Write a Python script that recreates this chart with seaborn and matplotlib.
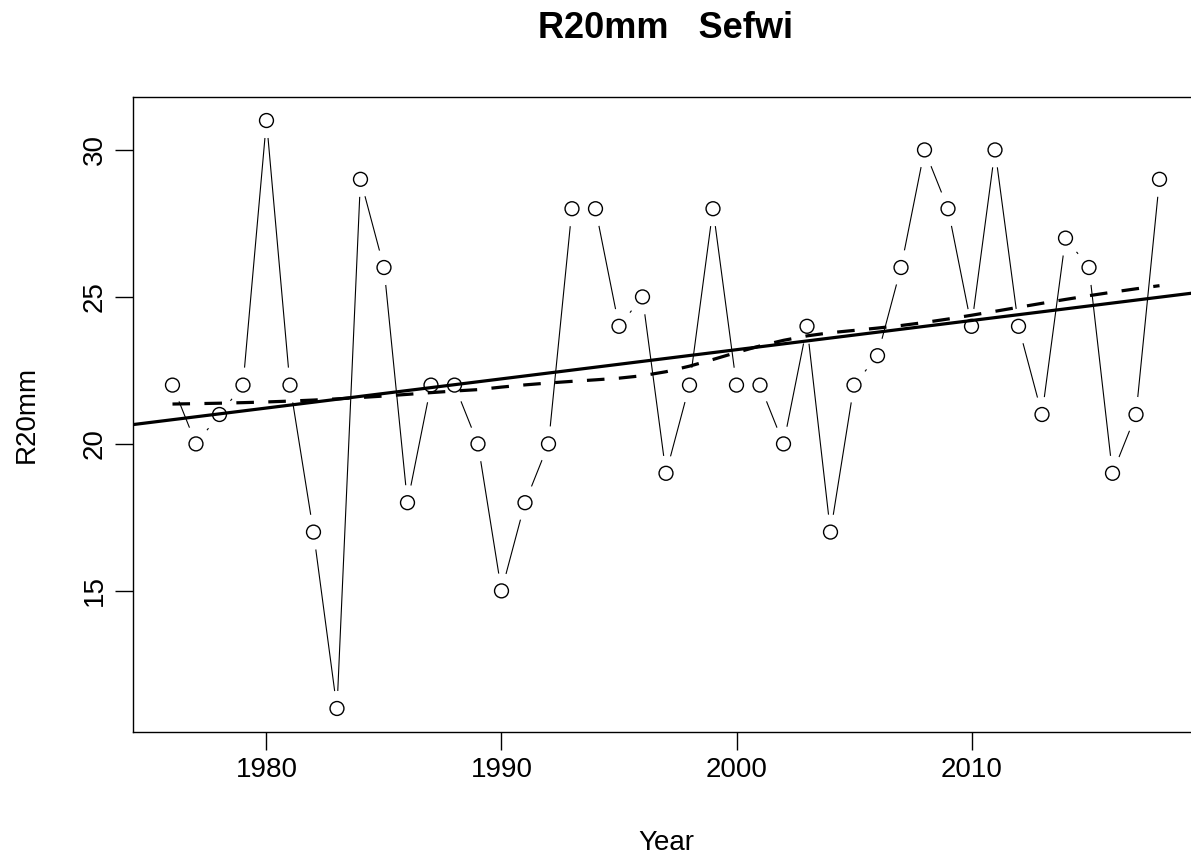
import numpy as np
import pandas as pd
import matplotlib
matplotlib.use("Agg")
import matplotlib.pyplot as plt
import seaborn as sns

# R20mm index for Sefwi station
years = list(range(1976, 2019))
r20mm = [22, 20, 21, 22, 31, 22, 17, 11, 29, 26,
         18, 22, 22, 20, 15, 18, 20, 28, 28, 24,
         25, 19, 22, 28, 22, 22, 20, 24, 17, 22,
         23, 26, 30, 28, 24, 30, 24, 21, 27, 26,
         19, 21, 29]
x_ticks = [1980, 1990, 2000, 2010]
y_ticks = [15, 20, 25, 30]


def lowess(x, y, f=2 / 3, iters=3):
    """Port of R's clowess (delta ignored, x is evenly spaced)."""
    x = np.asarray(x, float)
    y = np.asarray(y, float)
    n = len(x)
    ns = max(2, min(n, int(f * n + 1e-7)))
    rw = np.ones(n)
    ys = np.zeros(n)
    rng = x[-1] - x[0]
    for it in range(iters + 1):
        nleft, nright = 0, ns - 1
        for i in range(n):
            while nright < n - 1 and x[i] - x[nleft] > x[nright + 1] - x[i]:
                nleft += 1
                nright += 1
            h = max(x[i] - x[nleft], x[nright] - x[i])
            h9, h1 = 0.999 * h, 0.001 * h
            r = np.abs(x - x[i])
            w = np.where(r <= h1, 1.0, np.where(r <= h9, (1 - (r / h) ** 3) ** 3, 0.0))
            w = w * rw
            w = w / w.sum()
            if h > 0:
                a = np.sum(w * x)
                b = x[i] - a
                c = np.sum(w * (x - a) ** 2)
                if np.sqrt(c) > 0.001 * rng:
                    w = w * (b / c * (x - a) + 1)
            ys[i] = np.sum(w * y)
        if it == iters:
            break
        res = np.abs(y - ys)
        cmad = 6 * np.median(res)
        if cmad < 1e-7 * np.mean(np.abs(y)):
            break
        u = res / cmad
        rw = np.where(u <= 0.001, 1.0, np.where(u <= 0.999, (1 - u ** 2) ** 2, 0.0))
    return ys


df = pd.DataFrame({"Year": years, "R20mm": r20mm})
smooth = lowess(df["Year"], df["R20mm"])

sns.set_style("white")
plt.rcParams["font.family"] = ["Liberation Sans", "DejaVu Sans"]
plt.rcParams["text.color"] = "black"
plt.rcParams["axes.labelcolor"] = "black"
plt.rcParams["xtick.color"] = "black"
plt.rcParams["ytick.color"] = "black"

fig = plt.figure(figsize=(11.91, 8.56), dpi=100)
ax = fig.add_axes([133 / 1191, 124 / 856, 1066 / 1191, 635 / 856])

span_x = max(years) - min(years)
span_y = max(r20mm) - min(r20mm)
ax.set_xlim(min(years) - 0.04 * span_x, max(years) + 0.04 * span_x)
ax.set_ylim(min(r20mm) - 0.04 * span_y, max(r20mm) + 0.04 * span_y)

# type = "b": thin line with gaps around the open circles
sns.lineplot(data=df, x="Year", y="R20mm", color="black", linewidth=0.8, ax=ax, zorder=1)
sns.scatterplot(data=df, x="Year", y="R20mm", s=640, color="white", edgecolor="none",
                ax=ax, zorder=2)
sns.scatterplot(data=df, x="Year", y="R20mm", s=100, facecolor="none", edgecolor="black",
                linewidth=1.0, ax=ax, zorder=3)

# linear trend across the full axis and lowess smooth
sns.regplot(data=df, x="Year", y="R20mm", scatter=False, ci=None, truncate=False,
            color="black", line_kws={"linewidth": 2.3, "zorder": 4}, ax=ax)
ax.plot(df["Year"], smooth, color="black", linewidth=2.3, dashes=(5.5, 4.5), zorder=4)

ax.set_xlim(min(years) - 0.04 * span_x, max(years) + 0.04 * span_x)
ax.set_xticks(x_ticks)
ax.set_yticks(y_ticks)
ax.set_xticklabels([str(t) for t in x_ticks], fontsize=20)
ax.set_yticklabels([str(t) for t in y_ticks], fontsize=20, rotation=90, va="center")
ax.tick_params(axis="both", direction="out", length=13, width=1, color="black",
               labelcolor="black", pad=5, bottom=True, left=True)

for sp in ax.spines.values():
    sp.set_color("black")
    sp.set_linewidth(1.0)

ax.set_xlabel("Year", fontsize=20, va="baseline", color="black")
ax.xaxis.set_label_coords(0.5, -0.186)
ax.set_ylabel("R20mm", fontsize=20, va="center", color="black")
ax.yaxis.set_label_coords(-0.0994, 0.5)
ax.text(0.5, 1.093, "R20mm   Sefwi", transform=ax.transAxes, ha="center", va="baseline",
        fontsize=26, fontweight="bold", color="black")

fig.savefig("out.png", dpi=100)
